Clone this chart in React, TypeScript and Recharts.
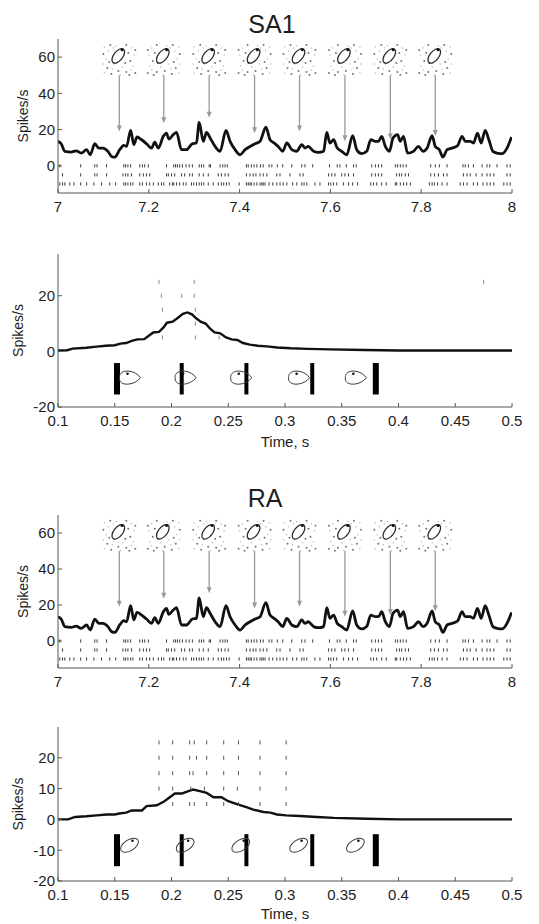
import React from 'react';
import { ComposedChart, Line, Scatter, XAxis, YAxis, ReferenceLine } from 'recharts';

const FONT = '"Liberation Sans", Arial, Helvetica, sans-serif';
const INK = '#1e1e1e';
const FRAME = '#555';

// ---- continuous stroking: firing rate, 7–8 s ----
const traceTime = [
  7.000, 7.007, 7.015, 7.029, 7.040, 7.051, 7.063, 7.071, 7.081, 7.090,
  7.099, 7.110, 7.118, 7.125, 7.136, 7.145, 7.151, 7.160, 7.167, 7.174,
  7.184, 7.195, 7.206, 7.213, 7.221, 7.232, 7.239, 7.244, 7.254, 7.261,
  7.272, 7.283, 7.296, 7.305, 7.311, 7.320, 7.327, 7.335, 7.346, 7.357,
  7.370, 7.379, 7.390, 7.401, 7.412, 7.423, 7.434, 7.445, 7.458, 7.467,
  7.476, 7.485, 7.495, 7.504, 7.515, 7.526, 7.537, 7.544, 7.551, 7.563,
  7.574, 7.585, 7.592, 7.599, 7.607, 7.615, 7.625, 7.636, 7.649, 7.658,
  7.669, 7.680, 7.689, 7.699, 7.706, 7.713, 7.721, 7.730, 7.738, 7.748,
  7.754, 7.761, 7.770, 7.783, 7.794, 7.804, 7.813, 7.824, 7.831, 7.840,
  7.848, 7.857, 7.868, 7.880, 7.890, 7.897, 7.908, 7.915, 7.924, 7.932,
  7.941, 7.949, 7.958, 7.967, 7.978, 7.989, 7.999,
];
const traceRate = [
  13.5, 12.2, 8, 7.6, 8.3, 7, 8.9, 6.1, 12.2, 9.8,
  9.8, 8, 5.2, 4.8, 8.9, 11.3, 10.7, 19.6, 11.7, 15.9,
  14.4, 12.2, 9.8, 13, 9.8, 16.3, 18.1, 14.8, 17.2, 18.5,
  8.9, 8.9, 12.2, 12.6, 24, 13.5, 18.5, 15.4, 10.7, 8,
  19.6, 13.5, 8.9, 6.1, 8.9, 10.7, 12.2, 13.5, 21.3, 14.4,
  12.6, 10.7, 8, 12.6, 8.9, 8, 11.7, 9.8, 10.7, 8,
  7.4, 8, 18.5, 12.6, 14.4, 9.8, 8, 6.1, 16.7, 8.9,
  6.7, 8, 14.4, 13.5, 13.5, 16.3, 10.7, 8, 15.4, 17.2,
  13.5, 16.3, 7, 8, 10.7, 8, 9.8, 16.7, 10.7, 8.9,
  4.8, 8.9, 9.8, 11.1, 16.3, 13.5, 13.5, 12.6, 18.1, 12.6,
  19.6, 14.4, 8, 7, 6.7, 9.8, 15.9,
];

// spike rasters under the trace (three units)
const rasterLevels = [0, -5, -10];
const rasterUnitA = [
  7.004, 7.050, 7.081, 7.086, 7.107, 7.145, 7.149, 7.154, 7.160, 7.180, 7.186, 7.191, 7.199,
  7.239, 7.255, 7.259, 7.263, 7.268, 7.274, 7.282, 7.289, 7.296, 7.311, 7.316, 7.321, 7.333,
  7.336, 7.357, 7.363, 7.368, 7.373, 7.415, 7.419, 7.426, 7.432, 7.438, 7.446, 7.452, 7.465,
  7.471, 7.483, 7.495, 7.515, 7.537, 7.544, 7.561, 7.598, 7.615, 7.621, 7.635, 7.651, 7.657,
  7.691, 7.699, 7.706, 7.713, 7.743, 7.748, 7.754, 7.760, 7.767, 7.821, 7.831, 7.840, 7.857,
  7.892, 7.897, 7.904, 7.915, 7.934, 7.945, 7.951, 7.967, 7.989, 7.996,
];
const rasterUnitB = [
  7.010, 7.050, 7.081, 7.086, 7.107, 7.143, 7.149, 7.154, 7.162, 7.180, 7.188, 7.195, 7.202,
  7.239, 7.243, 7.250, 7.257, 7.272, 7.279, 7.290, 7.296, 7.311, 7.320, 7.331, 7.353, 7.360,
  7.368, 7.375, 7.415, 7.423, 7.430, 7.436, 7.445, 7.452, 7.460, 7.482, 7.489, 7.511, 7.533,
  7.540, 7.596, 7.603, 7.610, 7.625, 7.632, 7.640, 7.651, 7.691, 7.699, 7.706, 7.713, 7.746,
  7.752, 7.757, 7.765, 7.772, 7.821, 7.829, 7.838, 7.849, 7.857, 7.893, 7.901, 7.908, 7.921,
  7.934, 7.945, 7.952, 7.960, 7.989, 7.996,
];
const rasterUnitC = [
  7.004, 7.010, 7.015, 7.026, 7.035, 7.050, 7.063, 7.079, 7.096, 7.114, 7.127, 7.145, 7.149,
  7.154, 7.160, 7.165, 7.180, 7.186, 7.195, 7.202, 7.210, 7.221, 7.228, 7.233, 7.246, 7.252,
  7.255, 7.261, 7.268, 7.276, 7.282, 7.294, 7.299, 7.305, 7.311, 7.316, 7.321, 7.331, 7.342,
  7.353, 7.360, 7.365, 7.371, 7.377, 7.399, 7.415, 7.419, 7.423, 7.426, 7.432, 7.438, 7.445,
  7.449, 7.452, 7.456, 7.465, 7.473, 7.482, 7.489, 7.496, 7.504, 7.517, 7.526, 7.537, 7.542,
  7.548, 7.566, 7.577, 7.596, 7.601, 7.607, 7.614, 7.629, 7.640, 7.649, 7.660, 7.689, 7.695,
  7.702, 7.713, 7.723, 7.743, 7.746, 7.754, 7.761, 7.768, 7.776, 7.818, 7.824, 7.829, 7.836,
  7.846, 7.857, 7.886, 7.893, 7.901, 7.915, 7.924, 7.936, 7.945, 7.952, 7.960, 7.982, 7.989,
  7.996,
];

// contact-map snapshots and where they point on the trace
const snapshotTimes = [7.135, 7.233, 7.333, 7.433, 7.532, 7.632, 7.732, 7.831];
const snapshotArrowTip = [19, 23.5, 26.5, 18, 19, 13.5, 14.5, 16.5];
const SNAPSHOT_LEVEL = 59;
const ARROW_START = 50;

// ---- repeated single touches: mean rate, 0.1–0.5 s ----
const touchRateSA1: [number, number][] = [
  [0.100, 0.3], [0.108, 0.4], [0.113, 1.0], [0.125, 1.3], [0.134, 1.7], [0.142, 2.0],
  [0.150, 2.2], [0.155, 2.8], [0.160, 3.0], [0.165, 3.8], [0.170, 4.3], [0.176, 4.4],
  [0.180, 5.6], [0.184, 6.8], [0.189, 7.0], [0.193, 8.6], [0.196, 10.3], [0.201, 10.7],
  [0.206, 12.2], [0.210, 13.5], [0.214, 14.0], [0.218, 13.3], [0.222, 11.8], [0.226, 10.6],
  [0.230, 10.0], [0.234, 8.2], [0.238, 6.8], [0.243, 6.5], [0.248, 5.0], [0.253, 4.3],
  [0.258, 4.1], [0.263, 3.0], [0.269, 2.4], [0.276, 2.0], [0.284, 1.8], [0.293, 1.4],
  [0.305, 1.1], [0.320, 0.9], [0.340, 0.7], [0.370, 0.5], [0.400, 0.3], [0.500, 0.3],
];
const touchRateRA: [number, number][] = [
  [0.100, 0], [0.109, 0], [0.115, 0.8], [0.125, 1.0], [0.134, 1.3], [0.143, 1.6],
  [0.150, 1.6], [0.154, 1.9], [0.160, 2.2], [0.165, 2.9], [0.174, 2.9], [0.178, 4.3],
  [0.187, 4.6], [0.193, 5.7], [0.197, 6.8], [0.203, 8.4], [0.209, 8.4], [0.215, 9.2],
  [0.219, 9.7], [0.225, 9.2], [0.231, 8.6], [0.237, 7.2], [0.244, 7.2], [0.250, 5.9],
  [0.259, 4.8], [0.266, 4.0], [0.272, 3.2], [0.281, 2.4], [0.287, 2.2], [0.293, 1.6],
  [0.301, 1.3], [0.313, 1.1], [0.328, 0.8], [0.343, 0.5], [0.372, 0.2], [0.401, 0], [0.500, 0],
];

// single-trial spikes, one row per trial
const trialLevels = [25, 20, 15, 10, 5];
const sa1TrialSpikes = [
  [0.189, 0.220, 0.475],
  [0.191, 0.209, 0.220],
  [0.192, 0.221],
  [0.221],
  [0.192, 0.221, 0.242],
];
const raTrialSpikes = [
  [0.189, 0.201, 0.216, 0.220, 0.231, 0.246, 0.259, 0.278, 0.301],
  [0.189, 0.201, 0.216, 0.222, 0.231, 0.246, 0.259, 0.278, 0.301],
  [0.189, 0.201, 0.216, 0.219, 0.231, 0.246, 0.259, 0.278, 0.301],
  [0.189, 0.201, 0.217, 0.229, 0.246, 0.258, 0.278, 0.301],
  [0.201, 0.216, 0.220, 0.231, 0.246, 0.259, 0.278, 0.301],
];

// stimulus markers and contact outlines
const stimulusTimes = [0.152, 0.209, 0.266, 0.324, 0.380];
const stimulusBarWidth = [6, 4, 4, 4, 6];
const sa1StimulusSpan = [-4.2, -15.5];
const raStimulusSpan = [-4.8, -15.2];
const contactTimes = [0.163, 0.212, 0.261, 0.312, 0.362];
const sa1ContactLevel = -9.5;
const raContactLevel = -8.4;

const strokeTicks = [7, 7.2, 7.4, 7.6, 7.8, 8];
const touchTicks = [0.1, 0.15, 0.2, 0.25, 0.3, 0.35, 0.4, 0.45, 0.5];

// sparse speckle around each contact map (pixel offsets within the glyph)
const SPECKLE: [number, number, number][] = [
  [-15, -12, 0], [-9, -14, 1], [-3, -13, 0], [7, -14, 1], [12, -11, 0], [16, -9, 1],
  [-16, -5, 1], [-11, -8, 0], [9, -6, 1], [15, -4, 0],
  [-13, 0, 0], [-10, 3, 1], [-16, 5, 0], [11, 2, 1], [14, 7, 0],
  [-12, 9, 1], [-7, 10, 0], [-1, 12, 1], [3, 8, 0], [7, 13, 1], [12, 11, 0], [16, 14, 1],
  [-15, 14, 0], [-8, 15, 1], [1, 16, 0], [10, 16, 1],
  [-5, 5, 0], [6, 4, 1], [-6, -11, 0],
];

const pairs = (xs: number[], ys: number[]) => xs.map((x, i) => ({ x, y: ys[i] }));
const rows = (rowsOfTimes: number[][], levels: number[]) =>
  rowsOfTimes.flatMap((times, i) => times.map((x) => ({ x, y: levels[i] })));
const fromPairs = (p: [number, number][]) => p.map(([x, y]) => ({ x, y }));

const strokeTrace = pairs(traceTime, traceRate);
const strokeRaster = rows([rasterUnitA, rasterUnitB, rasterUnitC], rasterLevels);
const snapshots = snapshotTimes.map((x) => ({ x, y: SNAPSHOT_LEVEL }));
const arrowTips = pairs(snapshotTimes, snapshotArrowTip);

const tickShape = (half: number, color: string) => (p: any) => (
  <line x1={p.cx} x2={p.cx} y1={p.cy - half} y2={p.cy + half} stroke={color} strokeWidth={1} />
);

const ArrowHead = (p: any) => (
  <path d={`M${p.cx - 2.5},${p.cy - 6} L${p.cx + 2.5},${p.cy - 6} L${p.cx},${p.cy} Z`} fill="#9a9a9a" />
);

const ContactMap = (p: any) => {
  const { cx, cy } = p;
  const flip = (p.index ?? 0) % 2 ? -1 : 1;
  const ex = cx - 1;
  const ey = cy - 3;
  return (
    <g>
      {SPECKLE.map(([dx, dy, s], i) => (
        <circle key={i} cx={cx + flip * dx} cy={cy + dy} r={s ? 1 : 0.8} fill={s ? '#777' : '#bbb'} />
      ))}
      <ellipse cx={ex} cy={ey} rx={4.5} ry={8.5} transform={`rotate(38 ${ex} ${ey})`} fill="none" stroke="#2a2a2a" strokeWidth={1.3} />
      <circle cx={ex + 3.8} cy={ey - 6.2} r={1.5} fill="#111" />
    </g>
  );
};

const EggOutline = (p: any) => {
  const { cx, cy } = p;
  return (
    <g>
      <path
        d={`M${cx - 10},${cy} C${cx - 11},${cy - 9} ${cx + 5},${cy - 9} ${cx + 11},${cy} C${cx + 5},${cy + 8} ${cx - 11},${cy + 9} ${cx - 10},${cy} Z`}
        fill="none"
        stroke="#3a3a3a"
        strokeWidth={1}
      />
      <circle cx={cx - 2} cy={cy - 4} r={1.3} fill="#111" />
    </g>
  );
};

const SlantOutline = (p: any) => {
  const { cx, cy } = p;
  return (
    <g>
      <ellipse cx={cx} cy={cy} rx={10} ry={5.5} transform={`rotate(-32 ${cx} ${cy})`} fill="none" stroke="#3a3a3a" strokeWidth={1} />
      <circle cx={cx + 3} cy={cy - 4.5} r={1.3} fill="#111" />
    </g>
  );
};

type AxisCfg = {
  xDomain: [number, number];
  xTicks: number[];
  yDomain: [number, number];
  yTicks: number[];
  xHeight: number;
  yLabelOffset: number;
  xLabel?: string;
};

const tickText = { fill: INK, fontSize: 15, fontFamily: FONT };

const frameAxes = (c: AxisCfg) => [
  <XAxis
    key="xb"
    dataKey="x"
    type="number"
    domain={c.xDomain}
    ticks={c.xTicks}
    interval={0}
    allowDataOverflow
    height={c.xHeight}
    tickSize={-4}
    tickMargin={12}
    stroke={FRAME}
    tick={tickText}
    label={
      c.xLabel
        ? { value: c.xLabel, position: 'insideBottom', offset: 0, fill: INK, fontSize: 15, fontFamily: FONT }
        : undefined
    }
  />,
  <XAxis
    key="xt"
    xAxisId="top"
    orientation="top"
    type="number"
    domain={c.xDomain}
    ticks={c.xTicks}
    interval={0}
    allowDataOverflow
    height={0}
    tickSize={-4}
    tick={false}
    stroke={FRAME}
  />,
  <YAxis
    key="yl"
    dataKey="y"
    type="number"
    domain={c.yDomain}
    ticks={c.yTicks}
    interval={0}
    allowDataOverflow
    width={58}
    tickSize={-4}
    tickMargin={7}
    stroke={FRAME}
    tick={tickText}
    label={{
      value: 'Spikes/s',
      angle: -90,
      position: 'insideLeft',
      offset: c.yLabelOffset,
      fill: INK,
      fontSize: 14,
      fontFamily: FONT,
      style: { textAnchor: 'middle' },
    }}
  />,
  <YAxis
    key="yr"
    yAxisId="right"
    orientation="right"
    type="number"
    domain={c.yDomain}
    ticks={c.yTicks}
    interval={0}
    allowDataOverflow
    width={0}
    tickSize={-4}
    tick={false}
    stroke={FRAME}
  />,
];

const strokeAxes: AxisCfg = {
  xDomain: [7, 8],
  xTicks: strokeTicks,
  yDomain: [-15, 70],
  yTicks: [0, 20, 40, 60],
  xHeight: 25,
  yLabelOffset: 23,
};

const strokeSeries = (id: string) => [
  ...snapshotTimes.map((x, i) => (
    <ReferenceLine
      key={`${id}-arrow-${i}`}
      segment={[{ x, y: ARROW_START }, { x, y: snapshotArrowTip[i] + 2 }]}
      stroke="#9a9a9a"
      strokeWidth={1.3}
    />
  )),
  <Scatter key={`${id}-tips`} data={arrowTips} shape={ArrowHead} isAnimationActive={false} />,
  <Scatter key={`${id}-maps`} data={snapshots} shape={ContactMap} isAnimationActive={false} />,
  <Scatter key={`${id}-raster`} data={strokeRaster} shape={tickShape(1.6, '#3c3c3c')} isAnimationActive={false} />,
  <Line
    key={`${id}-rate`}
    data={strokeTrace}
    dataKey="y"
    type="monotone"
    stroke="#111"
    strokeWidth={2.8}
    dot={false}
    isAnimationActive={false}
  />,
];

const touchSeries = (
  id: string,
  rate: [number, number][],
  spikes: number[][],
  spikeColor: string,
  span: number[],
  contactLevel: number,
  outline: (p: any) => React.ReactElement,
) => [
  ...stimulusTimes.map((x, i) => (
    <ReferenceLine
      key={`${id}-stim-${i}`}
      segment={[{ x, y: span[0] }, { x, y: span[1] }]}
      stroke="#000"
      strokeWidth={stimulusBarWidth[i]}
    />
  )),
  <Scatter
    key={`${id}-contact`}
    data={contactTimes.map((x) => ({ x, y: contactLevel }))}
    shape={outline}
    isAnimationActive={false}
  />,
  <Scatter key={`${id}-trials`} data={rows(spikes, trialLevels)} shape={tickShape(2, spikeColor)} isAnimationActive={false} />,
  <Line
    key={`${id}-rate`}
    data={fromPairs(rate)}
    dataKey="y"
    type="linear"
    stroke="#111"
    strokeWidth={2.4}
    dot={false}
    isAnimationActive={false}
  />,
];

const box = (top: number): React.CSSProperties => ({ position: 'absolute', left: 0, top });
const title = (left: number, top: number): React.CSSProperties => ({
  position: 'absolute',
  left,
  top,
  width: 200,
  textAlign: 'center',
  fontSize: 25,
  lineHeight: '25px',
  color: INK,
  fontFamily: FONT,
});

export default function App() {
  return (
    <div style={{ position: 'absolute', left: 0, top: 0, width: 539, height: 924, background: '#fff', fontFamily: FONT }}>
      <div style={box(0)}>
        <ComposedChart width={539} height={225} margin={{ top: 39, right: 27, bottom: 7, left: 0 }}>
          {frameAxes(strokeAxes)}
          {strokeSeries('sa1')}
        </ComposedChart>
      </div>
      <div style={box(225)}>
        <ComposedChart width={539} height={225} margin={{ top: 29, right: 27, bottom: 3, left: 0 }}>
          {frameAxes({
            xDomain: [0.1, 0.5],
            xTicks: touchTicks,
            yDomain: [-20, 35],
            yTicks: [-20, 0, 20],
            xHeight: 40,
            yLabelOffset: 18,
            xLabel: 'Time, s',
          })}
          {touchSeries('sa1t', touchRateSA1, sa1TrialSpikes, '#8a8a8a', sa1StimulusSpan, sa1ContactLevel, EggOutline)}
        </ComposedChart>
      </div>
      <div style={box(450)}>
        <ComposedChart width={539} height={245} margin={{ top: 65, right: 27, bottom: 2, left: 0 }}>
          {frameAxes(strokeAxes)}
          {strokeSeries('ra')}
        </ComposedChart>
      </div>
      <div style={box(695)}>
        <ComposedChart width={539} height={229} margin={{ top: 32, right: 27, bottom: 5, left: 0 }}>
          {frameAxes({
            xDomain: [0.1, 0.5],
            xTicks: touchTicks,
            yDomain: [-20, 30],
            yTicks: [-20, -10, 0, 10, 20],
            xHeight: 38,
            yLabelOffset: 18,
            xLabel: 'Time, s',
          })}
          {touchSeries('rat', touchRateRA, raTrialSpikes, '#555', raStimulusSpan, raContactLevel, SlantOutline)}
        </ComposedChart>
      </div>
      <div style={title(172, 12)}>SA1</div>
      <div style={title(165, 486)}>RA</div>
    </div>
  );
}
